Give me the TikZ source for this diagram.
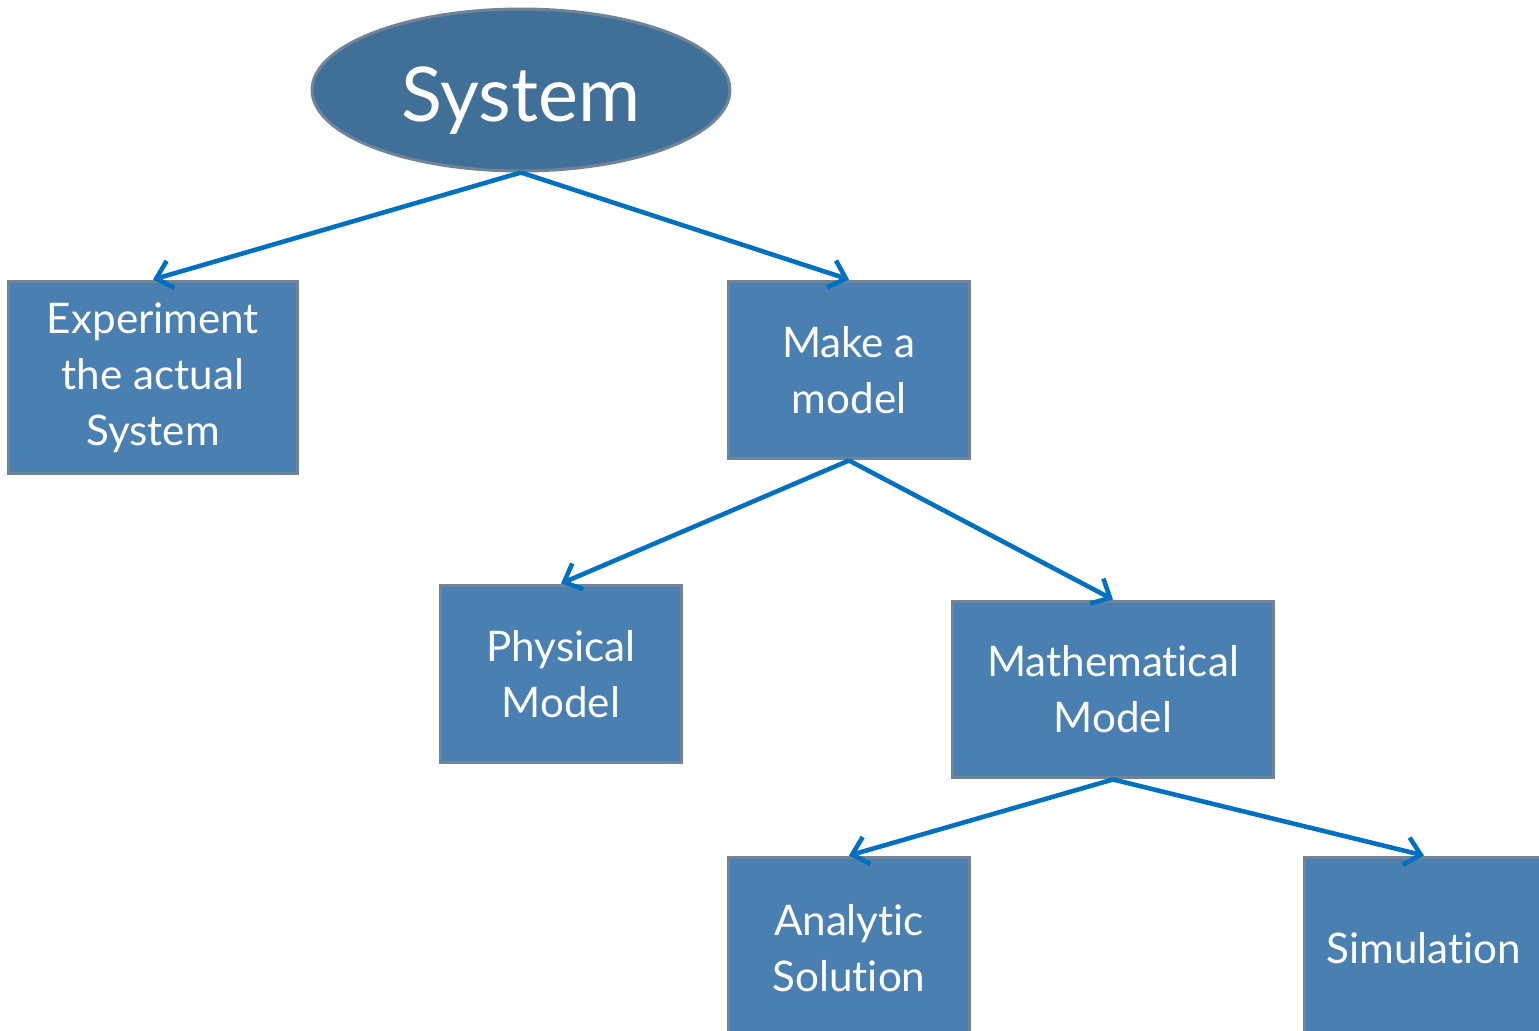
\documentclass[tikz,border=0pt]{standalone}
\usepackage{fontspec}
\setmainfont{Lato}[Ligatures={NoCommon}]
\usetikzlibrary{arrows.meta, shapes.geometric}

\definecolor{boxfill}{HTML}{4A7FB2}
\definecolor{ellfill}{HTML}{406F98}
\definecolor{boxline}{HTML}{6F8499}
\definecolor{arrowblue}{HTML}{0070C0}

\begin{document}
\begin{tikzpicture}[x=0.02cm, y=-0.02cm,
    box/.style={draw=boxline, fill=boxfill, line width=1.7pt, text=white,
      align=center, inner sep=0pt, font=\fontsize{24}{32}\selectfont},
    sysnode/.style={ellipse, draw=boxline, fill=ellfill, line width=1.7pt, text=white,
      inner sep=0pt, minimum width=8.36cm, minimum height=3.24cm,
      font=\fontsize{43}{50}\selectfont},
    flow/.style={draw=arrowblue, line width=2.6pt,
      -{Straight Barb[length=8.5pt,width=16pt]}}]

  % --- canvas (pixel units of the reference) ---
  \useasboundingbox (0,0) rectangle (1539,1031);
  \clip (0,0) rectangle (1539,1031);

  % --- top: the system ---
  \node[sysnode] (sys) at (521,90) {\raisebox{-6pt}[\height][\depth]{System}};

  % --- second level ---
  \node[box, minimum width=5.8cm, minimum height=3.86cm] (exp) at (153,377.5)
    {Experiment\\the actual\\System};
  \node[box, minimum width=4.84cm, minimum height=3.56cm] (make) at (849,370)
    {Make a\\model};

  % --- third level ---
  \node[box, minimum width=4.84cm, minimum height=3.56cm] (phys) at (561,674)
    {Physical\\Model};
  \node[box, minimum width=6.44cm, minimum height=3.54cm] (math) at (1113,689.5)
    {Mathematical\\Model};

  % --- bottom level (boxes run off the page) ---
  \node[box, minimum width=4.84cm, minimum height=3.64cm] (anal) at (849,948)
    {Analytic\\Solution};
  \node[box, minimum width=4.8cm, minimum height=3.64cm] (sim) at (1424,948)
    {Simulation};

  % --- arrows ---
  \draw[flow] (sys.south) -- (exp.north);
  \draw[flow] (sys.south) -- (make.north);
  \draw[flow] (make.south) -- (phys.north);
  \draw[flow] (make.south) -- (math.north);
  \draw[flow] (math.south) -- (anal.north);
  \draw[flow] (math.south) -- (sim.north);

\end{tikzpicture}
\end{document}
